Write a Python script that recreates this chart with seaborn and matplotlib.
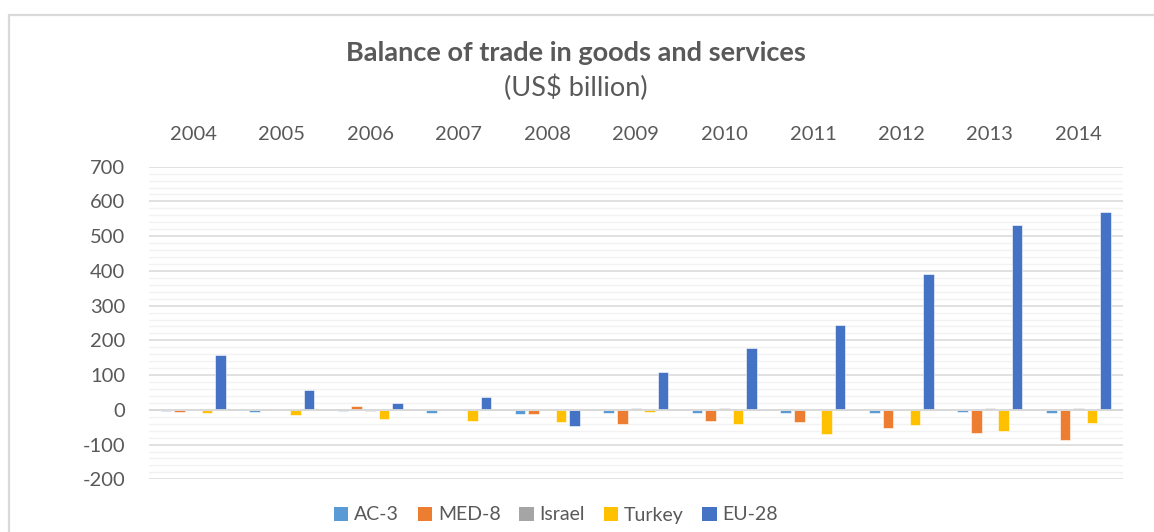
import matplotlib
matplotlib.use("Agg")
import matplotlib.pyplot as plt
from matplotlib.patches import Rectangle, Patch
from matplotlib.ticker import MultipleLocator
import pandas as pd
import seaborn as sns

years = ["2004", "2005", "2006", "2007", "2008", "2009", "2010", "2011", "2012", "2013", "2014"]
series = ["AC-3", "MED-8", "Israel", "Turkey", "EU-28"]
ac3 = [-4, -5, -4, -8, -11, -8, -8, -8, -8, -6, -8]
med8 = [-5, 3, 10, 0, -12, -41, -33, -35, -53, -67, -86]
israel = [-1, 0, -2, 0, 0, 4, 4, 0, 2, 4, 4]
turkey = [-9, -16, -27, -33, -36, -5, -40, -70, -44, -60, -38]
eu28 = [157, 56, 19, 38, -46, 108, 177, 243, 392, 531, 570]
colors = ["#5B9BD5", "#ED7D31", "#A5A5A5", "#FFC000", "#4472C4"]

values = [ac3, med8, israel, turkey, eu28]
df = pd.DataFrame(
    [(y, s, v[i]) for s, v in zip(series, values) for i, y in enumerate(years)],
    columns=["year", "series", "value"],
)

sns.set_style("white")
plt.rcParams["font.family"] = ["Lato", "DejaVu Sans"]
plt.rcParams["axes.unicode_minus"] = False
text_color = "#595959"

W, H = 1154, 532
fig = plt.figure(figsize=(W / 100, H / 100), dpi=100)
ax = fig.add_axes([149 / W, 1 - 479.3 / H, (1122.7 - 149) / W, (479.3 - 166.7) / H])

sns.barplot(
    data=df, x="year", y="value", hue="series", order=years, hue_order=series,
    palette=colors, width=0.768, gap=0.22, ax=ax, legend=False,
    edgecolor="white", linewidth=0.4, saturation=1, zorder=2,
)

ax.set_ylim(-200, 700)
ax.set_xlim(-0.5, len(years) - 0.5)
ax.yaxis.set_major_locator(MultipleLocator(100))
ax.yaxis.set_minor_locator(MultipleLocator(20))
ax.grid(axis="y", which="minor", color="#f2f2f2", linewidth=1.0, zorder=0)
ax.grid(axis="y", which="major", color="#d9d9d9", linewidth=1.1, zorder=0)
ax.set_axisbelow(True)
ax.axhline(0, color="#d9d9d9", linewidth=1.3, zorder=3)

for sp in ax.spines.values():
    sp.set_visible(False)

ax.xaxis.tick_top()
ax.tick_params(axis="x", which="both", length=0, pad=17, labelsize=14.5, labelcolor=text_color)
ax.tick_params(axis="y", which="both", length=0, pad=17, labelsize=14.5, labelcolor=text_color)
ax.set_xlabel("")
ax.set_ylabel("")

fig.text(576 / W, 1 - 53 / H, "Balance of trade in goods and services", ha="center", va="center",
         fontsize=19.5, fontweight="bold", color=text_color)
fig.text(576 / W, 1 - 88 / H, "(US$ billion)", ha="center", va="center",
         fontsize=19.5, color=text_color)

handles = [Patch(facecolor=c, edgecolor="none") for c in colors]
fig.legend(handles, series, loc="center", bbox_to_anchor=(556 / W, 1 - 515 / H), ncol=5,
           frameon=False, fontsize=14, labelcolor=text_color, handlelength=0.75,
           handleheight=0.75, handletextpad=0.3, columnspacing=0.95)

fig.add_artist(Rectangle((9 / W, -0.1), 1.2, 1.1 - 15 / H, transform=fig.transFigure,
                         facecolor="none", edgecolor="#d9d9d9", linewidth=1.6))

fig.savefig("out.png", dpi=100)
